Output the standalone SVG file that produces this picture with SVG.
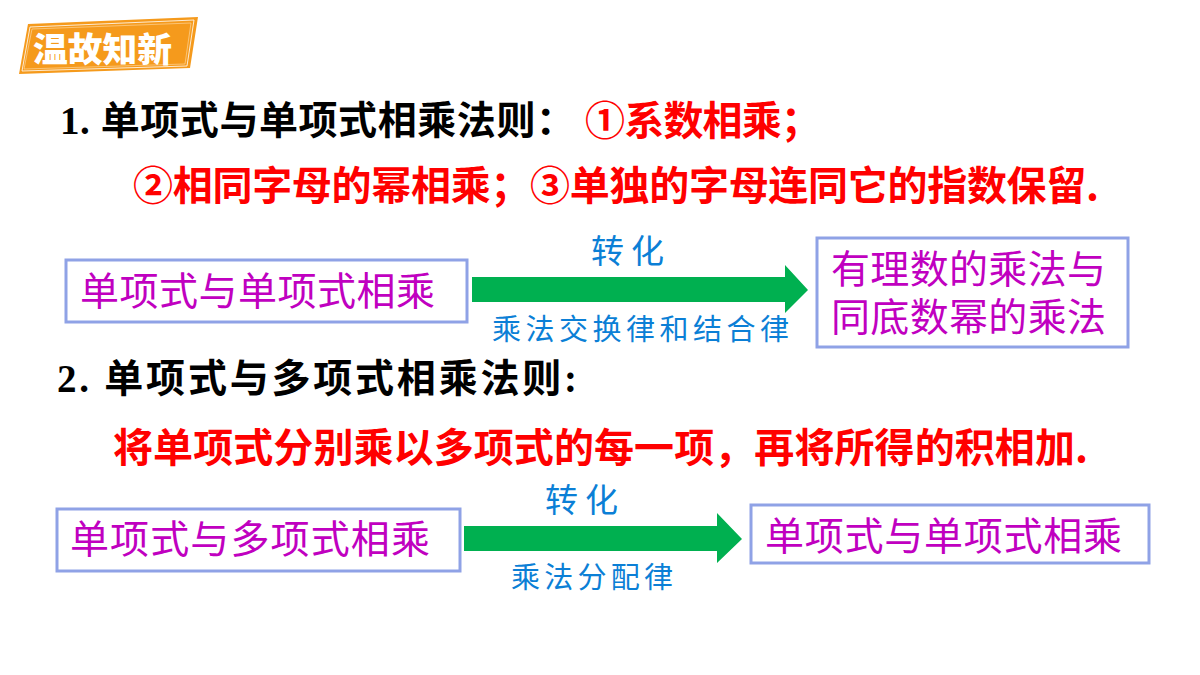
<svg xmlns="http://www.w3.org/2000/svg" width="1200" height="675" viewBox="0 0 1200 675">
<style>
.head{font-family:"Liberation Serif","Noto Sans CJK SC",serif;font-weight:700;fill:#000;}
.red{font-family:"Noto Sans CJK SC","Liberation Sans",sans-serif;font-weight:700;fill:#FF0000;font-size:40px;}
.box{fill:#FFFFFF;stroke:#8FA2E6;stroke-width:3;}
.boxtxt{font-family:"Noto Sans CJK SC",sans-serif;fill:#C000C0;font-size:39px;}
.lbl{font-family:"Noto Sans CJK SC",sans-serif;fill:#0B7FD6;}
.arrow{fill:#00B050;}
</style>
<rect width="1200" height="675" fill="#FFFFFF"/>

<g id="badge">
  <polygon points="28,24 198,17 190,68 19,74" fill="#F59A1C"/>
  <polygon points="30,27 194,20 187,66 22,71" fill="none" stroke="#FFFFFF" stroke-width="1" opacity="0.8"/>
  <polygon points="32,29 191,23 185,64 24,69" fill="none" stroke="#FFE3B8" stroke-width="0.8" opacity="0.7"/>
  <text x="33" y="62" font-family="Noto Sans CJK SC,sans-serif" font-weight="900" font-size="34" fill="#FFFFFF" textLength="139" lengthAdjust="spacingAndGlyphs">温故知新</text>
</g>

<g id="rule1">
  <text class="head" x="60" y="134" font-size="39" textLength="515" lengthAdjust="spacing">1. 单项式与单项式相乘法则：</text>
  <text class="red" x="585" y="135" textLength="236" lengthAdjust="spacing">①系数相乘；</text>
  <text class="red" x="133" y="200" textLength="966" lengthAdjust="spacing">②相同字母的幂相乘；③单独的字母连同它的指数保留.</text>
</g>

<g id="rule2">
  <text class="head" x="57" y="392" font-size="39" textLength="520" lengthAdjust="spacing">2. 单项式与多项式相乘法则:</text>
  <text class="red" x="113" y="462" textLength="975" lengthAdjust="spacing">将单项式分别乘以多项式的每一项，再将所得的积相加.</text>
</g>

<g id="node-a1">
  <rect class="box" x="66" y="260" width="401" height="62"/>
  <text class="boxtxt" x="80" y="305" textLength="355" lengthAdjust="spacing">单项式与单项式相乘</text>
</g>
<g id="node-b1">
  <rect class="box" x="817" y="238" width="311" height="109"/>
  <text class="boxtxt" x="831" y="283" textLength="275" lengthAdjust="spacing">有理数的乘法与</text>
  <text class="boxtxt" x="831" y="331" textLength="275" lengthAdjust="spacing">同底数幂的乘法</text>
</g>
<g id="node-a2">
  <rect class="box" x="57" y="509" width="403" height="62"/>
  <text class="boxtxt" x="70" y="553" textLength="360" lengthAdjust="spacing">单项式与多项式相乘</text>
</g>
<g id="node-b2">
  <rect class="box" x="751" y="505" width="398" height="58"/>
  <text class="boxtxt" x="765" y="550" textLength="357" lengthAdjust="spacing">单项式与单项式相乘</text>
</g>

<g id="connectors">
  <polygon class="arrow" points="472,277 785,277 785,265 808,290 785,313 785,302 472,302"/>
  <text class="lbl" x="591" y="263" font-size="33" textLength="73" lengthAdjust="spacing">转化</text>
  <text class="lbl" x="492" y="340" font-size="29" textLength="297" lengthAdjust="spacing">乘法交换律和结合律</text>

  <polygon class="arrow" points="464,526 717,526 717,513 742,539 717,563 717,551 464,551"/>
  <text class="lbl" x="545" y="512" font-size="33" textLength="73" lengthAdjust="spacing">转化</text>
  <text class="lbl" x="511" y="588" font-size="29" textLength="162" lengthAdjust="spacing">乘法分配律</text>
</g>
</svg>
